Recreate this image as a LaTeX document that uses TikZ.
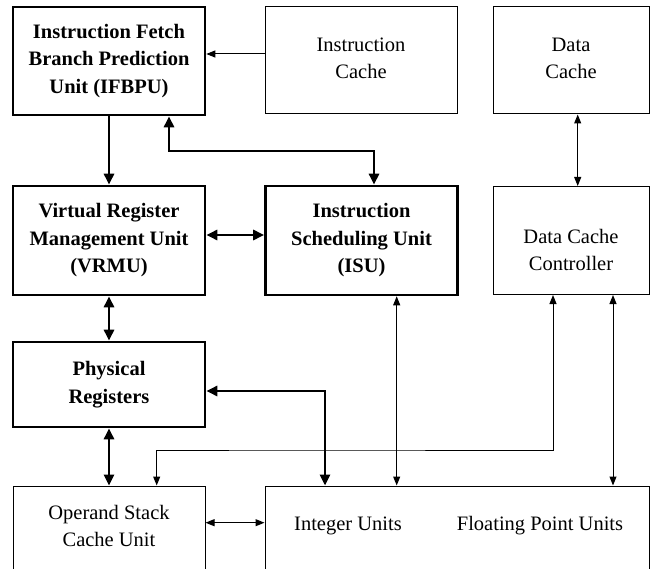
\documentclass[tikz,border=0pt]{standalone}
\usepackage{fontspec}
\setmainfont{Liberation Serif}
\usetikzlibrary{arrows.meta}
\tikzset{
  boxthick/.style={draw, line width=2.6pt, inner sep=0pt, align=center},
  boxthin/.style={draw, line width=1pt, inner sep=0pt, align=center},
  lbl/.style={inner sep=0pt, align=center},
  conthick/.style={line width=2.6pt, {Triangle[length=11pt,width=10pt]}-{Triangle[length=11pt,width=10pt]}},
  conthickto/.style={line width=2.6pt, -{Triangle[length=11pt,width=10pt]}},
  conthin/.style={line width=1pt, {Triangle[length=9pt,width=7pt]}-{Triangle[length=9pt,width=7pt]}},
  conthinto/.style={line width=1pt, -{Triangle[length=9pt,width=7pt]}},
}
\begin{document}
\begin{tikzpicture}[x=1pt,y=-1pt,font=\fontsize{20.5}{27}\selectfont]
\useasboundingbox (0,0) rectangle (650,569);
\begin{scope}
\clip (0,0) rectangle (650,569);
\node[boxthick, minimum width=192pt, minimum height=108pt, font=\fontsize{20.5}{27.5}\selectfont\bfseries] (ifbpu) at (109,61) {Instruction Fetch\\Branch Prediction\\Unit (IFBPU)};
\node[boxthin, minimum width=192pt, minimum height=107pt] (ic) at (361,60.5) {};
\node[lbl] (iclbl) at (361,58) {Instruction\\Cache};
\node[boxthin, minimum width=156pt, minimum height=107pt] (dc) at (571,60.5) {};
\node[lbl] (dclbl) at (571,58) {Data\\Cache};
\node[boxthick, minimum width=192pt, minimum height=109pt, font=\fontsize{20.5}{27.5}\selectfont\bfseries] (vrmu) at (109,240.5) {Virtual Register\\Management Unit\\(VRMU)};
\node[boxthick, minimum width=192pt, minimum height=109pt] (isu) at (361.5,240.5) {};
\node[lbl, font=\fontsize{20.5}{27.5}\selectfont\bfseries] (isulbl) at (361.5,240.5) {Instruction\\Scheduling Unit\\(ISU)};
\node[boxthin, minimum width=156pt, minimum height=108pt] (dcc) at (571,240.5) {};
\node[lbl] (dcclbl) at (571,250) {Data Cache\\Controller};
\node[boxthick, minimum width=192pt, minimum height=85pt, font=\fontsize{20.5}{28}\selectfont\bfseries] (pr) at (109,384.5) {Physical\\Registers};
\node[boxthin, minimum width=192pt, minimum height=110pt] (osc) at (109,541) {};
\node[lbl] (osclbl) at (109,525.5) {Operand Stack\\Cache Unit};
\node[boxthin, minimum width=384pt, minimum height=110pt] (iu) at (457,541) {};
\node[lbl] (iulbl) at (348,526) {Integer Units};
\node[lbl] (fplbl) at (540,526) {Floating Point Units};
\end{scope}
\coordinate (m1) at (250,151);
\coordinate (m2) at (300,450);
% connectors
\draw[conthinto] ([yshift=6.5]ic.west) -- ([yshift=7]ifbpu.east);
\draw[conthickto] (ifbpu.south) -- (vrmu.north);
\draw[conthick] ([xshift=60]ifbpu.south) |- (m1) -| ([xshift=12.5]isu.north);
\draw[conthick] ([yshift=5.5]vrmu.east) -- ([yshift=5.5]isu.west);
\draw[conthick] (vrmu.south) -- (pr.north);
\draw[conthick] (pr.south) -- (osc.north);
\draw[conthick] ([yshift=-6.5]pr.east) -| ([xshift=-132]iu.north);
\draw[conthin] ([xshift=6.7]dc.south) -- ([xshift=6.7]dcc.north);
\draw[conthin] ([xshift=35.2]isu.south) -- ([xshift=-60.3]iu.north);
\draw[conthin] ([xshift=-18]dcc.south) |- (m2) -| ([xshift=47.7]osc.north);
\draw[conthin] ([xshift=42]dcc.south) -- ([xshift=156]iu.north);
\draw[conthin] ([yshift=18.3]osc.east) -- ([yshift=18.3]iu.west);
\end{tikzpicture}
\end{document}
